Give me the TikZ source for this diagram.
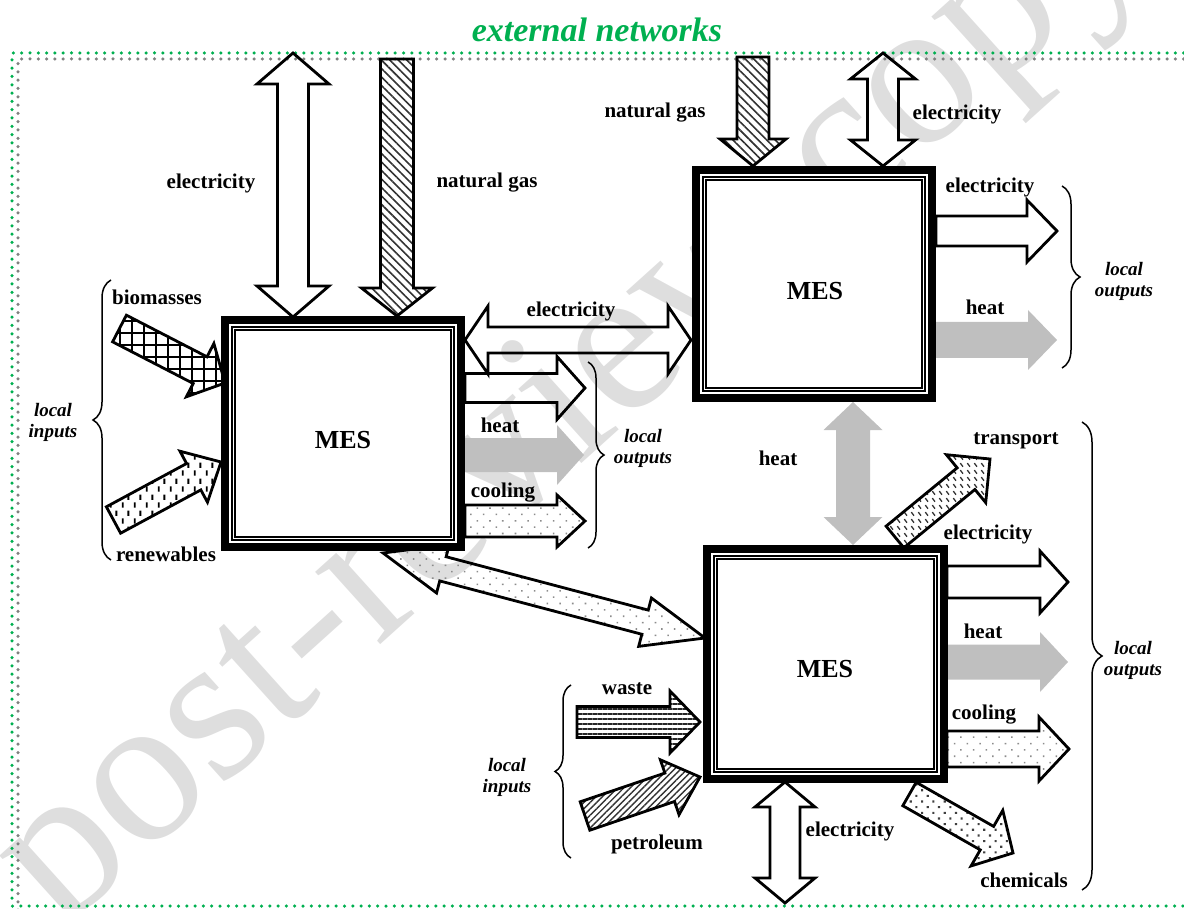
\documentclass[tikz,border=0pt]{standalone}
\usepackage{fontspec}
\setmainfont{Liberation Serif}
\usetikzlibrary{calc,patterns.meta,decorations.pathreplacing}
\definecolor{netgreen}{RGB}{0,176,80}
\definecolor{heatgray}{RGB}{191,191,191}
\definecolor{dotgray}{RGB}{128,128,128}

\pgfdeclarepattern{
  name=vdashes,
  bottom left={\pgfpoint{0pt}{0pt}},
  top right={\pgfpoint{12pt}{16pt}},
  tile size={\pgfpoint{12pt}{16pt}},
  code={\pgfsetlinewidth{2pt}
    \pgfpathmoveto{\pgfpoint{3pt}{1.5pt}}\pgfpathlineto{\pgfpoint{3pt}{7pt}}
    \pgfpathmoveto{\pgfpoint{9pt}{9.5pt}}\pgfpathlineto{\pgfpoint{9pt}{15pt}}
    \pgfusepath{stroke}}
}
\pgfdeclarepattern{
  name=sdashes,
  bottom left={\pgfpoint{0pt}{0pt}},
  top right={\pgfpoint{7pt}{7pt}},
  tile size={\pgfpoint{7pt}{7pt}},
  code={\pgfsetlinewidth{1.5pt}
    \pgfpathmoveto{\pgfpoint{1.5pt}{5.5pt}}\pgfpathlineto{\pgfpoint{4.5pt}{1.5pt}}
    \pgfusepath{stroke}}
}

% single block arrow: style, tail, tip, shaft half width, head half width, head length
\newcommand\sarrow[6]{%
  \coordinate (ah) at ($(#3)!#6!(#2)$);
  \path[#1] ($(#2)!#4!90:(#3)$) -- ($(ah)!#4!90:(#3)$) -- ($(ah)!#5!90:(#3)$) -- (#3)
    -- ($(ah)!#5!-90:(#3)$) -- ($(ah)!#4!-90:(#3)$) -- ($(#2)!#4!-90:(#3)$) -- cycle;
}
% double block arrow: style, end A, end B, shaft half width, head half width, head length
\newcommand\darrow[6]{%
  \coordinate (ha) at ($(#2)!#6!(#3)$);
  \coordinate (hb) at ($(#3)!#6!(#2)$);
  \path[#1] (#2) -- ($(ha)!#5!90:(#3)$) -- ($(ha)!#4!90:(#3)$) -- ($(hb)!#4!-90:(#2)$)
    -- ($(hb)!#5!-90:(#2)$) -- (#3) -- ($(hb)!#5!90:(#2)$) -- ($(hb)!#4!90:(#2)$)
    -- ($(ha)!#4!-90:(#3)$) -- ($(ha)!#5!-90:(#3)$) -- cycle;
}
% MES box: name, x1, y1, x2, y2, label x, label y
\newcommand\mesbox[7]{%
  \fill[white] (#2,#3) rectangle (#4,#5);
  \draw[line width=8pt] ($(#2,#3)+(4,4)$) rectangle ($(#4,#5)+(-4,-4)$);
  \draw[line width=1.2pt] ($(#2,#3)+(11,11)$) rectangle ($(#4,#5)+(-11,-11)$);
  \draw[line width=1.2pt] ($(#2,#3)+(14,14)$) rectangle ($(#4,#5)+(-14,-14)$);
  \node[mes] (#1) at (#6,#7) {MES};
}

\begin{document}
\begin{tikzpicture}[x=1pt,y=-1pt,
  lbl/.style={font=\fontsize{21}{23}\selectfont\bfseries, inner sep=0pt},
  loc/.style={font=\fontsize{19}{21}\selectfont\bfseries\itshape, align=center, inner sep=0pt},
  mes/.style={font=\fontsize{26}{28}\selectfont\bfseries, inner sep=0pt},
  wa/.style={draw=black, line width=2.8pt, line join=miter},
  ng/.style={wa, pattern={Lines[angle=-45,distance=6pt,line width=1.6pt]}, pattern color=black!80},
  ht/.style={fill=heatgray},
  cl/.style={wa, pattern={Dots[angle=45,distance=9pt,radius=1.1pt]}, pattern color=black!45},
  bio/.style={wa, pattern={Hatch[angle=0,distance=12pt,line width=2pt]}, pattern color=black},
  ren/.style={wa, pattern=vdashes, pattern color=black},
  trn/.style={wa, pattern=sdashes, pattern color=black!80},
  chem/.style={wa, pattern={Dots[angle=45,distance=8pt,radius=1.5pt]}, pattern color=black!75},
  wst/.style={wa, pattern={Lines[angle=0,distance=5pt,line width=2.2pt]}, pattern color=black!85},
  pet/.style={wa, pattern={Lines[angle=45,distance=4.5pt,line width=1.4pt]}, pattern color=black!80},
  brc/.style={draw, line width=1.5pt, decorate},
  dots/.style={line width=3.5pt, line cap=round, dash pattern=on 0pt off 8.3pt}
]
\useasboundingbox (0,0) rectangle (1184,909);
\clip (0,0) rectangle (1184,909);

% watermark
\node[text=black!13, rotate=42, font=\fontsize{212}{212}\selectfont] (wm) at (575,406) {post-review copy};

% frame of the external networks
\draw[dots, netgreen] (1192,53) -- (12,53) -- (12,906) -- (1192,906);
\draw[dots, dotgray] (1192,59) -- (18,59) -- (18,918);
\node[font=\fontsize{34}{36}\selectfont\bfseries\itshape, text=netgreen] (ext) at (597,30) {external networks};

% endpoints
\coordinate (e1a) at (293,53);   \coordinate (e1b) at (293,317);
\coordinate (g1a) at (397,59);   \coordinate (g1b) at (397,316);
\coordinate (g2a) at (753,57);   \coordinate (g2b) at (753,166);
\coordinate (e2a) at (883,53);   \coordinate (e2b) at (883,166);
\coordinate (e12a) at (465,340); \coordinate (e12b) at (691,340);
\coordinate (o1ea) at (465,388); \coordinate (o1eb) at (585,388);
\coordinate (o1ha) at (465,455); \coordinate (o1hb) at (584,455);
\coordinate (o1ca) at (465,521); \coordinate (o1cb) at (585,521);
\coordinate (bioa) at (119.5,328.5); \coordinate (biob) at (225,383);
\coordinate (rena) at (113.5,520);   \coordinate (renb) at (221,462);
\coordinate (c13a) at (383,553); \coordinate (c13b) at (705,638);
\coordinate (h23a) at (853,402); \coordinate (h23b) at (853,545);
\coordinate (o2ea) at (936,231); \coordinate (o2eb) at (1057,231);
\coordinate (o2ha) at (936,340); \coordinate (o2hb) at (1057,340);
\coordinate (tra) at (895,537);  \coordinate (trb) at (990,459);
\coordinate (o3ea) at (947,582); \coordinate (o3eb) at (1068,582);
\coordinate (o3ha) at (947,662); \coordinate (o3hb) at (1068,662);
\coordinate (o3ca) at (947,749); \coordinate (o3cb) at (1069,749);
\coordinate (cha) at (909.5,794); \coordinate (chb) at (1013,853);
\coordinate (e3a) at (785,782);  \coordinate (e3b) at (785,903);
\coordinate (wsa) at (577,722);  \coordinate (wsb) at (700,722);
\coordinate (pta) at (585,816);  \coordinate (ptb) at (700,777);

% arrows
\darrow{wa}{e1a}{e1b}{15.5pt}{36pt}{31pt}
\sarrow{ng}{g1a}{g1b}{16.5pt}{35.5pt}{28pt}
\sarrow{ng}{g2a}{g2b}{16pt}{33pt}{27pt}
\darrow{wa}{e2a}{e2b}{15.5pt}{32.5pt}{26pt}
\darrow{wa}{e12a}{e12b}{13pt}{34pt}{23pt}
\sarrow{wa}{o1ea}{o1eb}{14.5pt}{31.5pt}{28pt}
\sarrow{ht}{o1ha}{o1hb}{17pt}{30pt}{27pt}
\sarrow{cl}{o1ca}{o1cb}{16pt}{26pt}{28pt}
\sarrow{bio}{bioa}{biob}{15pt}{30pt}{28pt}
\sarrow{ren}{rena}{renb}{15pt}{29pt}{31pt}
\darrow{cl}{c13a}{c13b}{12.5pt}{25pt}{62pt}
\darrow{ht}{h23a}{h23b}{17pt}{29.5pt}{28pt}
\sarrow{wa}{o2ea}{o2eb}{15pt}{31pt}{30pt}
\sarrow{ht}{o2ha}{o2hb}{18pt}{30pt}{29pt}
\sarrow{trn}{tra}{trb}{14pt}{31pt}{31pt}
\sarrow{wa}{o3ea}{o3eb}{16pt}{31pt}{28pt}
\sarrow{ht}{o3ha}{o3hb}{17.5pt}{30pt}{28pt}
\sarrow{cl}{o3ca}{o3cb}{18pt}{32pt}{30pt}
\sarrow{chem}{cha}{chb}{13.5pt}{32pt}{30pt}
\darrow{wa}{e3a}{e3b}{15pt}{30pt}{25pt}
\sarrow{wst}{wsa}{wsb}{15.5pt}{31pt}{30pt}
\sarrow{pet}{pta}{ptb}{15pt}{29pt}{32pt}

% MES boxes
\mesbox{mes1}{221}{316}{465}{551}{343}{440}
\mesbox{mes2}{692}{166}{936}{402}{815}{291}
\mesbox{mes3}{703}{545}{948}{783}{825}{669}

% braces
\draw[brc, decoration={brace, amplitude=18pt}] (111,560) -- (111,280);
\draw[brc, decoration={brace, amplitude=16pt}] (588,362) -- (588,548);
\draw[brc, decoration={brace, amplitude=18pt}] (1062,186) -- (1062,368);
\draw[brc, decoration={brace, amplitude=20pt}] (1082,422) -- (1082,890);
\draw[brc, decoration={brace, amplitude=16pt}] (571,858) -- (571,685);

% labels
\node[lbl] (l1) at (211,183) {electricity};
\node[lbl] (l2) at (487,183) {natural gas};
\node[lbl] (l3) at (655,113) {natural gas};
\node[lbl] (l4) at (957,114) {electricity};
\node[lbl] (l5) at (571,311) {electricity};
\node[lbl] (l6) at (500,425) {heat};
\node[lbl] (l7) at (503,493) {cooling};
\node[lbl] (l8) at (157,297) {biomasses};
\node[lbl] (l9) at (166,554) {renewables};
\node[loc] (l10) at (53,422) {local\\inputs};
\node[loc] (l11) at (643,448) {local\\outputs};
\node[lbl] (l12) at (990,187) {electricity};
\node[lbl] (l13) at (985,307) {heat};
\node[loc] (l14) at (1124,281) {local\\outputs};
\node[lbl] (l15) at (778,458) {heat};
\node[lbl] (l16) at (1016,441) {transport};
\node[lbl] (l17) at (988,534) {electricity};
\node[lbl] (l18) at (983,631) {heat};
\node[lbl] (l19) at (984,715) {cooling};
\node[lbl] (l20) at (1024,880) {chemicals};
\node[loc] (l21) at (1133,660) {local\\outputs};
\node[lbl] (l22) at (850,831) {electricity};
\node[lbl] (l23) at (627,689) {waste};
\node[lbl] (l24) at (657,844) {petroleum};
\node[loc] (l25) at (507,777) {local\\inputs};
\end{tikzpicture}
\end{document}
